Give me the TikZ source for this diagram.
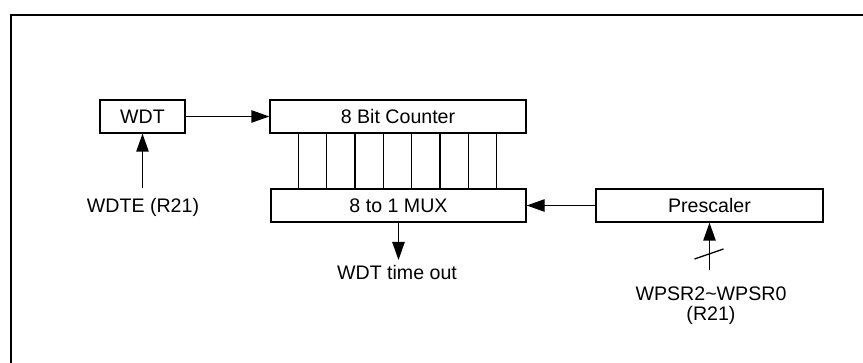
\documentclass[tikz,border=0pt]{standalone}
\usepackage{fontspec}
\setmainfont{Liberation Sans}
\usetikzlibrary{arrows.meta, positioning}

\begin{document}
\begin{tikzpicture}[x=0.5pt, y=-0.5pt,
        font=\fontsize{9.8}{10}\selectfont,
        line width=0.65pt,
        blk/.style={draw, minimum height=16.5pt, inner sep=0pt},
        arr/.style={-{Triangle[length=9pt, width=6.2pt]}},
        lbl/.style={inner sep=0pt, align=center}]
        % Area of the picture and the frame (only top and left side are seen)
        \useasboundingbox (0,0) rectangle (863,363);
        \draw[line width=1.15pt] (11,363) -- (11,15) -- (863,15);

        % Blocks
        \node[blk, minimum width=42.5pt] (wdt) at (142.5,116.5) {WDT};
        \node[blk, minimum width=128pt] (counter) at (398,116.5) {8 Bit Counter};
        \node[blk, minimum width=127.5pt] (mux) at (398.5,205.5) {8 to 1 MUX};
        \node[blk, minimum width=113.5pt] (prescaler) at (709.5,205.5) {Prescaler};

        % Eight lines from the counter to the MUX
        \foreach \i in {0,...,7}
            \draw ([xshift={14.5pt+\i*14.15pt}]counter.south west) -- ([xshift={14.5pt+\i*14.15pt}]counter.south west |- mux.north);

        % Free ends of the inputs and the output
        \coordinate (wdteIn) at (142.5,188);
        \coordinate (timeout) at (398.5,260);
        \coordinate (wpsrIn) at (709.5,270);

        % Connectors
        \draw[arr] (wdt) -- (counter);
        \draw[arr] (prescaler) -- (mux);
        \draw[arr] (wdteIn) -- (wdt.south);
        \draw[arr] (mux.south) -- (timeout);
        \draw[arr] (wpsrIn) -- (prescaler.south);
        % 3 bit bus mark
        \draw ([shift={(-15,5)}]wpsrIn |- 0,254) -- ([shift={(14,-5)}]wpsrIn |- 0,254);

        % Labels
        \node[lbl] (wdte) at (143,207) {WDTE (R21)};
        \node[lbl] (tout) at (397,272) {WDT time out};
        \node[lbl] (wpsr) at (711,306) {WPSR2\textasciitilde WPSR0\\(R21)};
    \end{tikzpicture}
\end{document}
